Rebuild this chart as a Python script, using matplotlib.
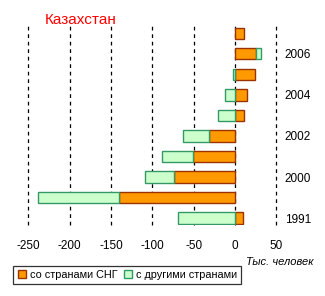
import numpy as np
import matplotlib
matplotlib.use("Agg")
import matplotlib.pyplot as plt
from matplotlib.patches import Patch

plt.rcParams['font.family'] = ['Liberation Sans', 'DejaVu Sans']

# Net migration, thousands of people
years = ['1991', '1995', '2000', '2001', '2002', '2003', '2004', '2005', '2006', '2007']
cis = [10.1, -140.5, -74.0, -50.7, -31.8, 11.3, 14.5, 24.6, 25.4, 10.9]
other = [-68.8, -97.5, -34.7, -37.5, -31.0, -20.5, -12.0, -2.8, 6.5, 0.0]
shown_years = ['1991', '2000', '2002', '2004', '2006']
xticks = [-250, -200, -150, -100, -50, 0, 50]

CIS_FACE, CIS_EDGE = '#FF9900', '#993300'
OTH_FACE, OTH_EDGE = '#CCFFCC', '#339966'

W, H = 325, 296
fig = plt.figure(figsize=(W / 100, H / 100), dpi=100)
ax = fig.add_axes([28.3 / W, 1 - 225 / H, 248 / W, 201 / H])

y = np.arange(len(years))
cis_a = np.array(cis)
oth_a = np.array(other)
left = np.where(np.sign(oth_a) == np.sign(cis_a), cis_a, 0.0)

ax.barh(y, cis_a, height=0.54, color=CIS_FACE, edgecolor=CIS_EDGE, linewidth=1, zorder=3)
mask = oth_a != 0
ax.barh(y[mask], oth_a[mask], left=left[mask], height=0.54, color=OTH_FACE,
        edgecolor=OTH_EDGE, linewidth=1, zorder=3)

ax.set_xlim(-250, 50)
ax.set_ylim(-0.34, 9.46)
ax.set_xticks(xticks)
ax.set_xticklabels([str(v) for v in xticks], fontsize=8.5)
ax.tick_params(axis='x', length=0, pad=11)
ax.yaxis.tick_right()
ax.set_yticks([years.index(s) for s in shown_years])
ax.set_yticklabels(shown_years, fontsize=8.5)
ax.tick_params(axis='y', length=0, pad=6)
for v in xticks:
    ax.axvline(v, color='black', linewidth=0.9, linestyle=(0, (3, 3)), zorder=1, clip_on=False)
for s in ax.spines.values():
    s.set_visible(False)

fig.text(45 / W, 1 - 20 / H, 'Казахстан', color='red', fontsize=11, va='center', ha='left')
fig.text(313 / W, 1 - 262 / H, 'Тыс. человек', fontsize=8, style='italic', ha='right', va='center')

handles = [Patch(facecolor=CIS_FACE, edgecolor=CIS_EDGE, label='со странами СНГ'),
           Patch(facecolor=OTH_FACE, edgecolor=OTH_EDGE, label='с другими странами')]
leg = fig.legend(handles=handles, loc='lower left', bbox_to_anchor=(13.3 / W, 1 - 284.3 / H),
                 ncol=2, fontsize=7.8, frameon=True, fancybox=False, borderpad=0.4,
                 handlelength=0.8, handleheight=0.8, handletextpad=0.3, columnspacing=0.6,
                 borderaxespad=0)
leg.get_frame().set_edgecolor('black')
leg.get_frame().set_linewidth(0.9)

fig.savefig('out.png', dpi=100)
